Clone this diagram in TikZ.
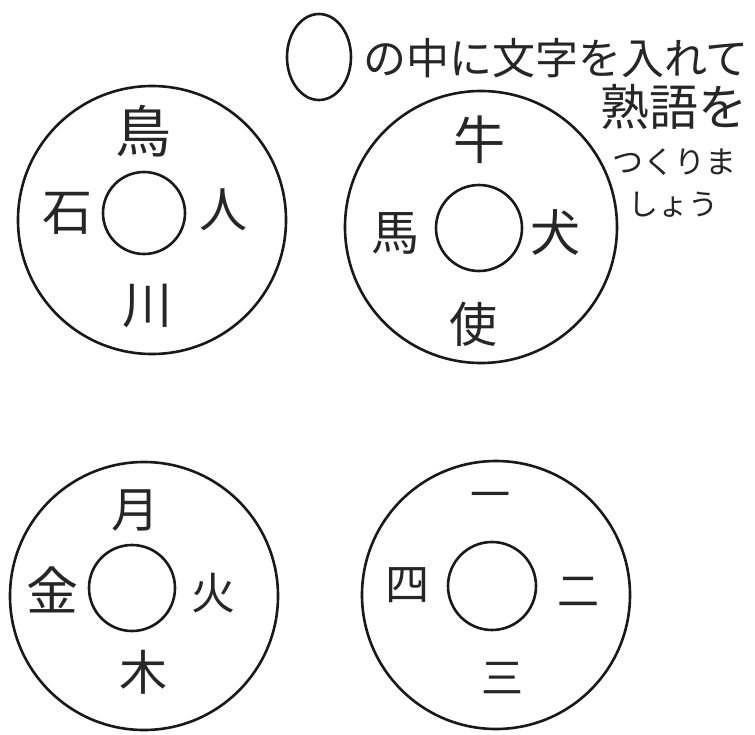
\documentclass[tikz,border=0pt]{standalone}
\usepackage{fontspec}
\setmainfont{Noto Sans CJK JP}
\usetikzlibrary{shapes.geometric}
\begin{document}
\begin{tikzpicture}[x=1pt,y=-1pt,
  ring/.style={draw=black!90, circle, line width=2.6pt, inner sep=0pt, minimum size=#1},
  kanji/.style={inner sep=0pt, font=\fontsize{#1}{#1}\selectfont, text=black!85},
  note/.style={inner sep=0pt, anchor=center, font=\fontsize{#1}{#1}\selectfont, text=black!85}]
\fill[white] (0,0) rectangle (755,734);
\useasboundingbox (0,0) rectangle (755,734);

% instruction at the top
\node[draw=black!90, ellipse, line width=2.6pt, inner sep=0pt, minimum width=64, minimum height=86] (hint) at (319,57) {};
\node[note=43] (line1) at (556,58) {の中に文字を入れて};
\node[note=49] (line2) at (674,107) {熟語を};
\node[note=31] (line3) at (674,162) {つくりま};
\node[note=30] (line4) at (673,205) {しょう};

% top-left ring
\node[ring=268] (o1) at (152,220) {};
\node[ring=82] (i1) at (144,213) {};
\node[kanji=56] (a1) at (143,131) {鳥};
\node[kanji=50] (a2) at (67,213) {石};
\node[kanji=48] (a3) at (223,210) {人};
\node[kanji=50] (a4) at (147,306) {川};

% top-right ring
\node[ring=272] (o2) at (481,227) {};
\node[ring=86] (i2) at (479,228) {};
\node[kanji=52] (b1) at (479,140) {牛};
\node[kanji=48] (b2) at (395,233) {馬};
\node[kanji=50] (b3) at (555,232) {犬};
\node[kanji=48] (b4) at (473,324) {使};

% bottom-left ring
\node[ring=268] (o3) at (144,596) {};
\node[ring=86] (i3) at (132,588) {};
\node[kanji=48] (c1) at (135,511) {月};
\node[kanji=52] (c2) at (53,590) {金};
\node[kanji=44] (c3) at (213,593) {火};
\node[kanji=48] (c4) at (143,672) {木};

% bottom-right ring
\node[ring=268] (o4) at (496,595) {};
\node[ring=88] (i4) at (492,586) {};
\node[kanji=40] (d1) at (490,501) {一};
\node[kanji=44] (d2) at (407,585) {四};
\node[kanji=42] (d3) at (578,592) {二};
\node[kanji=42] (d4) at (502,678) {三};
\end{tikzpicture}
\end{document}
